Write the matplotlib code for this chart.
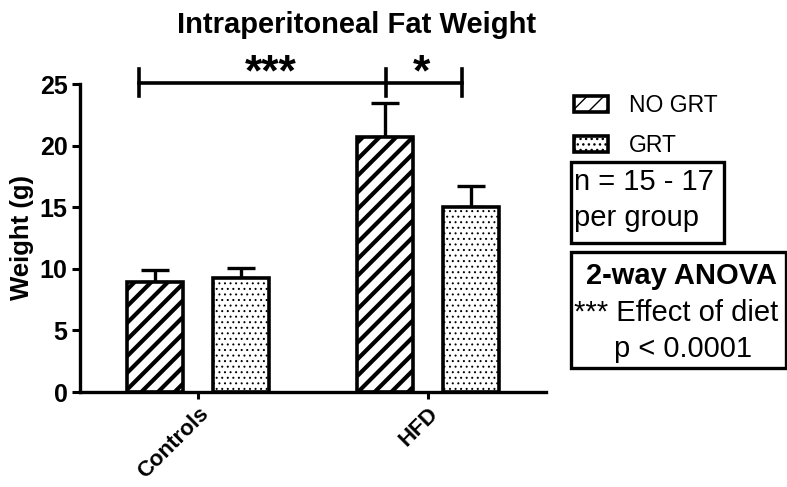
import matplotlib
matplotlib.use('Agg')
import matplotlib.pyplot as plt
from matplotlib.patches import Rectangle
import numpy as np

plt.rcParams['font.family'] = ['Liberation Sans', 'DejaVu Sans']

# data
groups = ['Controls', 'HFD']
series = ['NO GRT', 'GRT']
means = {'NO GRT': [8.9, 20.7], 'GRT': [9.25, 15.05]}
sem_up = {'NO GRT': [1.0, 2.75], 'GRT': [0.85, 1.7]}
hatches = {'NO GRT': '//', 'GRT': '...'}
offsets = {'NO GRT': -0.187, 'GRT': 0.187}

# significance brackets: (x positions), y level, star labels
br_x = [-0.257, 0.817, 1.148]
br_y = 25.1
br_labels = ['***', '*']

W, H = 787, 487
fig = plt.figure(figsize=(W / 100, H / 100), dpi=100)
ax = fig.add_axes([80 / W, 1 - 392 / H, (546 - 80) / W, (392 - 84) / H])

x = np.arange(len(groups))
bars = {}
for s in series:
    b = ax.bar(x + offsets[s], means[s], width=0.245, color='white',
               edgecolor='black', linewidth=2.6, hatch=hatches[s], label=s, zorder=2)
    for p in b:
        if hasattr(p, 'set_hatch_linewidth'):
            p.set_hatch_linewidth(3.0 if s == 'NO GRT' else 0.7)
    bars[s] = b
    ax.errorbar(x + offsets[s], means[s], yerr=[np.zeros(len(groups)), sem_up[s]],
                fmt='none', ecolor='black', elinewidth=2.4, capsize=10, capthick=2.4, zorder=1)

ax.set_xlim(-0.513, 1.513)
ax.set_ylim(0, 25)
ax.set_yticks([0, 5, 10, 15, 20, 25])
ax.set_xticks(x)
ax.set_xticklabels(groups, rotation=45, ha='right', rotation_mode='anchor',
                   fontsize=16, fontweight='bold')
for lab in ax.get_yticklabels():
    lab.set_fontsize(18)
    lab.set_fontweight('bold')
ax.tick_params(axis='y', length=6, width=2.2, pad=3)
ax.tick_params(axis='x', length=5, width=2.2, pad=3)
for sp in ['top', 'right']:
    ax.spines[sp].set_visible(False)
for sp in ['left', 'bottom']:
    ax.spines[sp].set_linewidth(2.4)
ax.set_ylabel('Weight (g)', fontsize=18.5, fontweight='bold', labelpad=4)

# brackets
ax.plot([br_x[0], br_x[2]], [br_y, br_y], color='black', lw=2.6, clip_on=False)
for bx in br_x:
    ax.plot([bx, bx], [br_y - 1.1, br_y + 1.1], color='black', lw=2.6, clip_on=False)
ax.text(0.317, br_y - 0.95, br_labels[0], ha='center', va='bottom',
        fontsize=32, fontweight='bold')
ax.text(0.97, br_y - 0.95, br_labels[1], ha='center', va='bottom',
        fontsize=32, fontweight='bold')

fig.text(357 / W, 1 - 25 / H, 'Intraperitoneal Fat Weight', ha='center', va='center',
         fontsize=21, fontweight='bold')

# legend
handles = [bars[s][0] for s in series]
fig.legend(handles, series, loc='upper left', bbox_to_anchor=(574 / W, 1 - 94 / H),
           frameon=False, fontsize=16.5, handlelength=1.5, handleheight=0.65,
           handletextpad=0.9, labelspacing=0.75, borderpad=0, borderaxespad=0)

# annotation boxes
fig.add_artist(Rectangle((571 / W, 1 - 243 / H), (724 - 571) / W, (243 - 162) / H,
                         transform=fig.transFigure, fill=False, lw=2.4, edgecolor='black'))
fig.text(574 / W, 1 - 182 / H, 'n = 15 - 17', ha='left', va='center', fontsize=21)
fig.text(574 / W, 1 - 218 / H, 'per group', ha='left', va='center', fontsize=21)

fig.add_artist(Rectangle((571 / W, 1 - 368 / H), (786 - 571) / W, (368 - 252) / H,
                         transform=fig.transFigure, fill=False, lw=2.4, edgecolor='black'))
fig.text(681 / W, 1 - 276 / H, '2-way ANOVA', ha='center', va='center',
         fontsize=21, fontweight='bold')
fig.text(574 / W, 1 - 313 / H, '*** Effect of diet', ha='left', va='center', fontsize=21)
fig.text(683 / W, 1 - 349 / H, 'p < 0.0001', ha='center', va='center', fontsize=21)

fig.savefig('out.png', dpi=100)
